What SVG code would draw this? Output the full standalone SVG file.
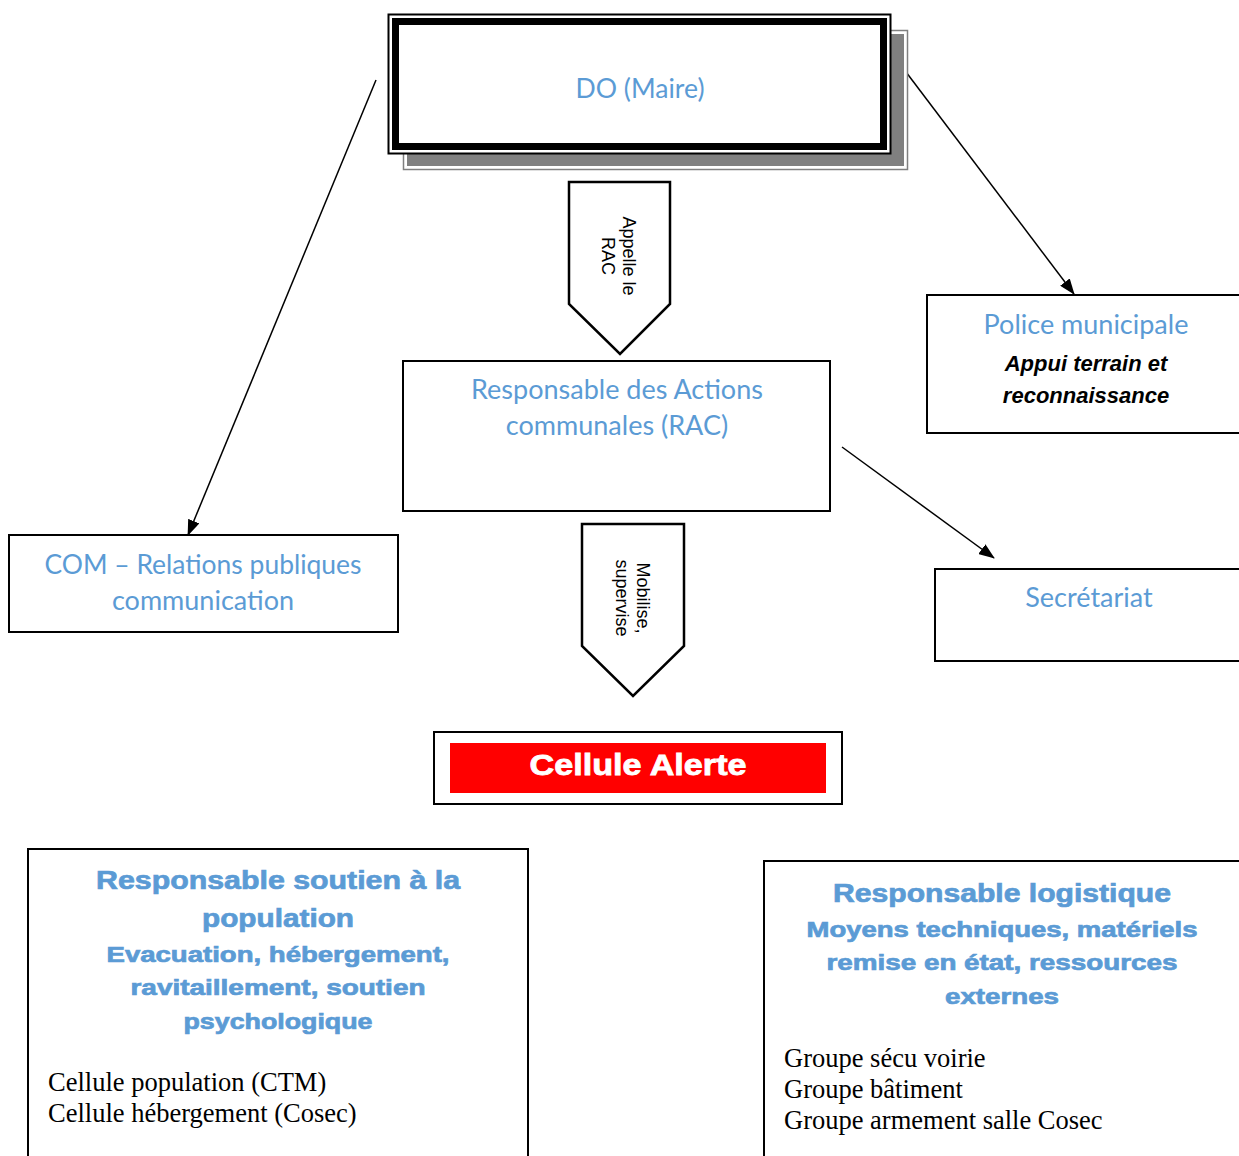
<svg xmlns="http://www.w3.org/2000/svg" width="1239" height="1156" viewBox="0 0 1239 1156">
<defs>
<marker id="ah" markerWidth="16" markerHeight="12" refX="15" refY="6" orient="auto" markerUnits="userSpaceOnUse">
<path d="M0,0 L16,6 L0,12 Z" fill="#000"/>
</marker>
<style>
.box{fill:#fff;stroke:#000;stroke-width:2}
.cal{font-family:Lato,"Open Sans","Liberation Sans",sans-serif;fill:#5B9BD5;font-size:27px;text-anchor:middle}
.bb{font-family:"Liberation Sans",Arial,sans-serif;font-weight:bold;fill:#5B9BD5;stroke:#5B9BD5;stroke-width:0.7px;text-anchor:middle}
.ser{font-family:"Liberation Serif","Times New Roman",serif;font-size:26.5px;fill:#000}
.arr{fill:#fff;stroke:#000;stroke-width:2.5}
.lab{font-family:"Liberation Sans",Arial,sans-serif;font-size:18px;fill:#000;text-anchor:middle}
.con{stroke:#000;stroke-width:1.5;fill:none;marker-end:url(#ah)}
</style>
</defs>
<rect width="1239" height="1156" fill="#fff"/>

<g id="connectors">
<line class="con" x1="376" y1="80" x2="188" y2="535"/>
<line class="con" x1="906" y1="72" x2="1074" y2="294"/>
<line class="con" x1="842" y1="447" x2="994" y2="558"/>
</g>

<g id="do">
<rect x="403.5" y="30.5" width="504" height="139" fill="#fff" stroke="#808080" stroke-width="1.5"/>
<rect x="407" y="34" width="497" height="132" fill="#808080"/>
<rect x="388.5" y="14.5" width="502" height="139" fill="#fff" stroke="#000" stroke-width="2"/>
<rect x="395.5" y="21.5" width="488" height="125" fill="#fff" stroke="#000" stroke-width="7"/>
<text class="cal" x="640" y="98" textLength="129" lengthAdjust="spacingAndGlyphs">DO (Maire)</text>
</g>

<g id="arrow-appelle">
<path class="arr" d="M569,182 L670,182 L670,304 L620,354 L569,304 Z"/>
<text class="lab" transform="translate(619,256) rotate(90)"><tspan x="0" y="-4">Appelle le</tspan><tspan x="0" y="17">RAC</tspan></text>
</g>

<g id="rac">
<rect class="box" x="403" y="361" width="427" height="150"/>
<text class="cal" x="617" y="399">Responsable des Actions</text>
<text class="cal" x="617" y="435">communales (RAC)</text>
</g>

<g id="arrow-mobilise">
<path class="arr" d="M582,524 L684,524 L684,646 L633,696 L582,646 Z"/>
<text class="lab" transform="translate(633,598) rotate(90)"><tspan x="0" y="-4">Mobilise,</tspan><tspan x="0" y="17">supervise</tspan></text>
</g>

<g id="police">
<rect class="box" x="927" y="295" width="320" height="138"/>
<text class="cal" x="1086" y="334">Police municipale</text>
<text x="1086" y="371" font-family="Liberation Sans,Arial,sans-serif" font-size="22" font-weight="bold" font-style="italic" text-anchor="middle">Appui terrain et</text>
<text x="1086" y="403" font-family="Liberation Sans,Arial,sans-serif" font-size="22" font-weight="bold" font-style="italic" text-anchor="middle">reconnaissance</text>
</g>

<g id="secretariat">
<rect class="box" x="935" y="569" width="312" height="92"/>
<text class="cal" x="1089" y="607">Secrétariat</text>
</g>

<g id="com">
<rect class="box" x="9" y="535" width="389" height="97"/>
<text class="cal" x="203" y="574" textLength="317" lengthAdjust="spacingAndGlyphs">COM – Relations publiques</text>
<text class="cal" x="203" y="610">communication</text>
</g>

<g id="cellule-alerte">
<rect class="box" x="434" y="732" width="408" height="72"/>
<rect x="450" y="743" width="376" height="50" fill="#FF0000"/>
<text x="638" y="775" font-family="Liberation Sans,Arial,sans-serif" font-weight="bold" font-size="30" fill="#fff" text-anchor="middle" stroke="#fff" stroke-width="0.8" textLength="217" lengthAdjust="spacingAndGlyphs">Cellule Alerte</text>
</g>

<g id="soutien">
<rect class="box" x="28" y="849" width="500" height="320"/>
<text class="bb" x="278" y="889" font-size="26" textLength="364" lengthAdjust="spacingAndGlyphs">Responsable soutien à la</text>
<text class="bb" x="278" y="927" font-size="26" textLength="152" lengthAdjust="spacingAndGlyphs">population</text>
<text class="bb" x="278" y="962" font-size="22" textLength="343" lengthAdjust="spacingAndGlyphs">Evacuation, hébergement,</text>
<text class="bb" x="278" y="995" font-size="22" textLength="295" lengthAdjust="spacingAndGlyphs">ravitaillement, soutien</text>
<text class="bb" x="278" y="1029" font-size="22" textLength="189" lengthAdjust="spacingAndGlyphs">psychologique</text>
<text class="ser" x="48" y="1091">Cellule population (CTM)</text>
<text class="ser" x="48" y="1122">Cellule hébergement (Cosec)</text>
</g>

<g id="logistique">
<rect class="box" x="764" y="861" width="490" height="310"/>
<text class="bb" x="1002" y="902" font-size="26" textLength="338" lengthAdjust="spacingAndGlyphs">Responsable logistique</text>
<text class="bb" x="1002" y="937" font-size="22" textLength="391" lengthAdjust="spacingAndGlyphs">Moyens techniques, matériels</text>
<text class="bb" x="1002" y="970" font-size="22" textLength="351" lengthAdjust="spacingAndGlyphs">remise en état, ressources</text>
<text class="bb" x="1002" y="1004" font-size="22" textLength="114" lengthAdjust="spacingAndGlyphs">externes</text>
<text class="ser" x="784" y="1067">Groupe sécu voirie</text>
<text class="ser" x="784" y="1098">Groupe bâtiment</text>
<text class="ser" x="784" y="1129">Groupe armement salle Cosec</text>
</g>
</svg>
